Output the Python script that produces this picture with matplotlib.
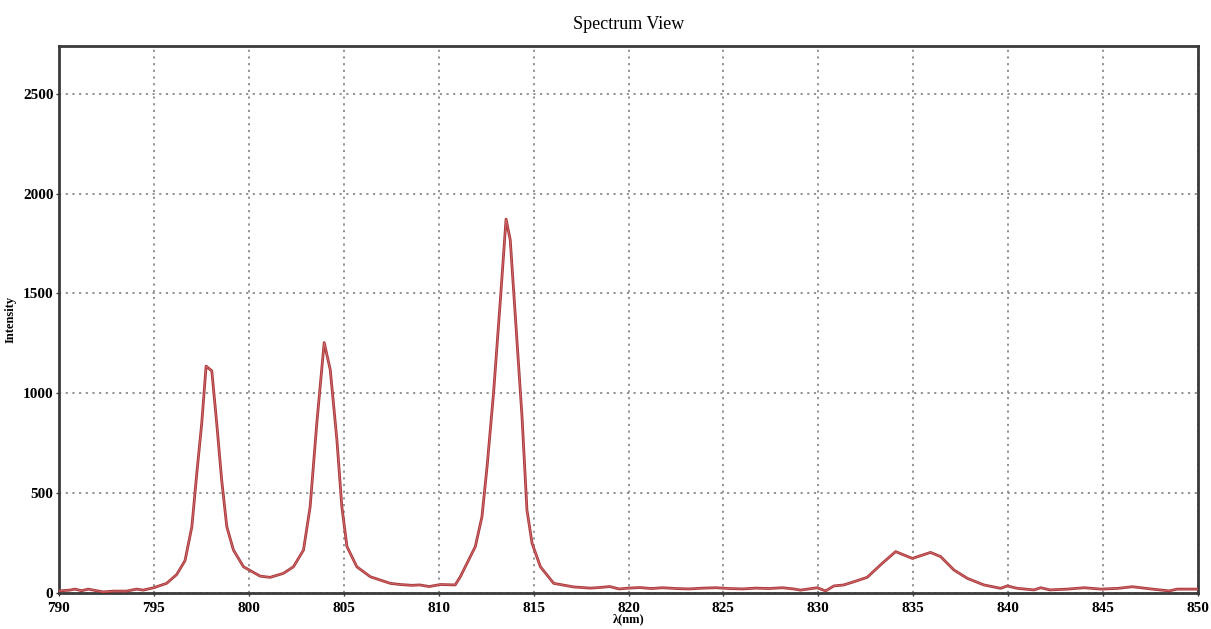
import matplotlib
matplotlib.use("Agg")
import matplotlib.pyplot as plt

# Spectrum data (wavelength nm, intensity)
wavelength = [790.0, 790.57, 790.84, 791.19, 791.54, 791.98, 792.33, 792.86, 793.56, 794.09, 794.44,
              794.99, 795.67, 796.2, 796.64, 797.0, 797.26, 797.52, 797.75, 798.05, 798.31, 798.57,
              798.84, 799.19, 799.72, 800.6, 801.12, 801.82, 802.35, 802.88, 803.23, 803.58, 803.97,
              804.29, 804.64, 804.9, 805.17, 805.69, 806.4, 807.45, 807.98, 808.6, 809.0, 809.5,
              810.08, 810.87, 811.14, 811.49, 811.93, 812.28, 812.55, 812.89, 813.25, 813.55, 813.77,
              814.04, 814.39, 814.65, 814.92, 815.36, 816.06, 817.11, 818.0, 818.6, 819.0, 819.5,
              820.0, 820.6, 821.2, 821.8, 822.5, 823.2, 823.9, 824.6, 825.3, 826.0, 826.7, 827.4,
              828.1, 828.7, 829.06, 829.94, 830.38, 830.82, 831.34, 831.87, 832.57, 833.36, 834.07,
              834.95, 835.91, 836.44, 837.14, 837.85, 838.72, 839.6, 839.95, 840.48, 841.36, 841.71,
              842.2, 843.12, 844.0, 844.9, 845.8, 846.54, 847.6, 848.48, 848.9, 850.0]
intensity = [8, 12, 17, 9, 17, 9, 3, 7, 7, 17, 12,
             24, 46, 90, 160, 330, 598, 848, 1135, 1111, 848, 564,
             330, 213, 129, 82, 76, 96, 129, 213, 430, 848, 1253,
             1116, 765, 430, 230, 129, 79, 46, 40, 36, 38, 30,
             40, 38, 79, 146, 230, 380, 631, 999, 1467, 1872, 1768,
             1383, 882, 414, 247, 129, 46, 28, 22, 26, 30, 18,
             22, 25, 20, 24, 20, 18, 22, 24, 20, 18, 22, 20,
             24, 18, 12, 24, 8, 33, 38, 54, 76, 146, 205,
             171, 201, 180, 113, 71, 38, 21, 33, 21, 13, 24,
             13, 17, 24, 17, 21, 29, 17, 8, 17, 17]

x_ticks = [790, 795, 800, 805, 810, 815, 820, 825, 830, 835, 840, 845, 850]
y_ticks = [0, 500, 1000, 1500, 2000, 2500]

plt.rcParams['font.family'] = ['Liberation Serif', 'DejaVu Serif']

fig = plt.figure(figsize=(12.11, 6.29), dpi=100)
ax = fig.add_axes([0.0487, 0.058, 0.9406, 0.8689])

ax.plot(wavelength, intensity, color='#a8363a', lw=2.0, solid_joinstyle='round', zorder=3)
ax.plot(wavelength, intensity, color='#d06a6a', lw=0.7, solid_joinstyle='round', zorder=4)

ax.set_xlim(790, 850)
ax.set_ylim(0, 2740)
ax.set_xticks(x_ticks)
ax.set_yticks(y_ticks)
ax.set_xticklabels([str(t) for t in x_ticks], fontsize=11, fontweight='bold')
ax.set_yticklabels([str(t) for t in y_ticks], fontsize=11, fontweight='bold')
ax.tick_params(axis='y', length=2, width=1, pad=2, color='#333333')
ax.tick_params(axis='x', length=2, width=1, pad=5, color='#333333')

ax.grid(True, color='#8a8a8a', linestyle=(0, (1.2, 2.5)), linewidth=1.3)
ax.set_axisbelow(True)
for s in ax.spines.values():
    s.set_color('#3a3a3a')
    s.set_linewidth(2)

ax.set_title('Spectrum View', fontsize=13, pad=12)
ax.set_xlabel('λ(nm)', fontsize=9, fontweight='bold')
ax.xaxis.set_label_coords(0.5, -0.038)
ax.set_ylabel('Intensity', fontsize=9, fontweight='bold')
ax.yaxis.set_label_coords(-0.037, 0.5)

fig.savefig('out.png', dpi=100)
